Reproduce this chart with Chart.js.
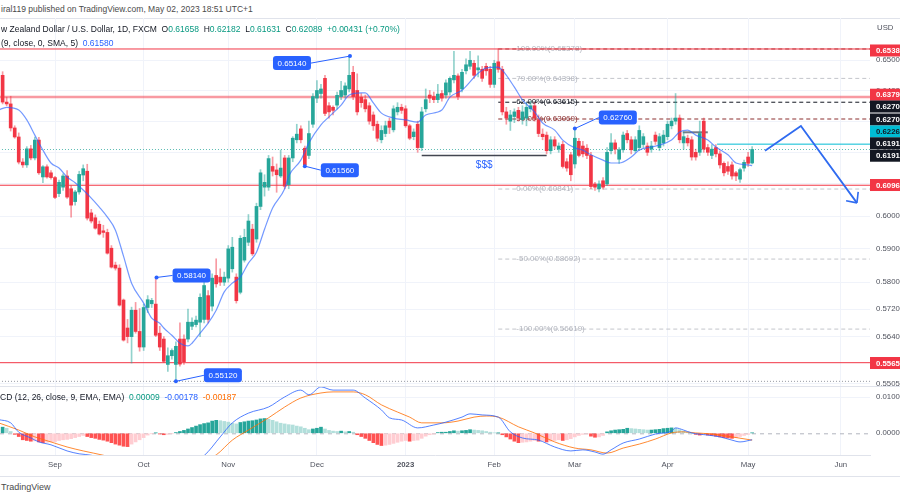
<!DOCTYPE html>
<html>
<head>
<meta charset="utf-8">
<script src="https://cdn.jsdelivr.net/npm/chart.js@4.4.1/dist/chart.umd.min.js"></script>
<style>
  body { margin: 0; background: #fff; }
  #wrap { position: relative; width: 900px; height: 500px; overflow: hidden; background: #fff;
          font-family: "Liberation Sans", Arial, sans-serif; color: #131722; }
  .txt { position: absolute; white-space: nowrap; font-size: 8.5px; line-height: 10px; }
  .g { color: #089981; }
  .b { color: #2962ff; }
  .o { color: #ff6d00; }
  canvas { position: absolute; left: 0; }
  .rule { position: absolute; left: 0; width: 900px; height: 1px; background: #e0e3eb; }
</style>
</head>
<body>
<div id="wrap">
  <div class="txt" style="left:1px;top:4px;color:#4a4a4a">iral119 published on TradingView.com, May 02, 2023 18:51 UTC+1</div>
  <div class="rule" style="top:18px"></div>
  <canvas id="priceChart" width="900" height="386" style="top:0"></canvas>
  <canvas id="macdChart" width="900" height="90" style="top:386px"></canvas>
  <div class="rule" style="top:386px"></div>
  <div class="rule" style="top:476px"></div>
  <div class="txt" style="left:1px;top:24px">w Zealand Dollar / U.S. Dollar, 1D, FXCM &nbsp;O<span class="g">0.61658</span> &nbsp;H<span class="g">0.62182</span> &nbsp;L<span class="g">0.61631</span> &nbsp;C<span class="g">0.62089</span> &nbsp;<span class="g">+0.00431 (+0.70%)</span></div>
  <div class="txt" style="left:1px;top:38px">(9, close, 0, SMA, 5) &nbsp;<span class="b">0.61580</span></div>
  <div class="txt" style="left:877px;top:23px;font-size:7.8px;color:#50535e">USD</div>
  <div class="txt" style="left:0;top:392px">CD (12, 26, close, 9, EMA, EMA) &nbsp;<span class="g">0.00009</span> &nbsp;<span class="b">-0.00178</span> &nbsp;<span class="o">-0.00187</span></div>
  <div class="txt" style="left:1px;top:482px;font-size:9px;color:#4a4a4a">TradingView</div>
</div>
<script>
// bar index 0 = 1 Sep 2022, one step per trading day; first bar is 15 Aug 2022
const firstIdx = -13

const opens = [
  .6450,.6362,.6356,.6278,.6249,.6169,.6160,.6211,.6182,.6239,
  .6122,.6154,.6135,.6120,.6070,.6090,.6125,.6085,.6045,.6075,
  .6128,.6140,.6010,.5995,.5975,.5955,.5950,.5902,.5851,.5842,
  .5747,.5665,.5640,.5717,.5655,.5610,.5725,.5736,.5735,.5650,
  .5633,.5560,.5585,.5560,.5633,.5633,.5633,.5670,.5675,.5682,
  .5690,.5760,.5729,.5820,.5815,.5800,.5812,.5840,.5815,.5770,
  .5866,.5920,.5960,.5930,.6030,.6090,.6090,.6155,.6144,.6125,
  .6182,.6098,.6182,.6240,.6275,.6213,.6190,.6290,.6375,.6390,
  .6440,.6350,.6345,.6352,.6380,.6385,.6405,.6460,.6400,.6378,
  .6370,.6350,.6320,.6290,.6240,.6260,.6300,.6272,.6330,.6345,
  .6340,.6285,.6250,.6290,.6215,.6340,.6385,.6380,.6370,.6390,
  .6385,.6395,.6435,.6448,.6405,.6465,.6480,.6490,.6468,.6470,
  .6480,.6470,.6420,.6495,.6470,.6330,.6300,.6315,.6335,.6305,
  .6310,.6340,.6350,.6305,.6258,.6255,.6205,.6240,.6210,.6225,
  .6170,.6192,.6163,.6235,.6220,.6213,.6190,.6100,.6085,.6110,
  .6100,.6205,.6230,.6178,.6208,.6260,.6240,.6205,.6215,.6225,
  .6220,.6210,.6255,.6215,.6230,.6250,.6285,.6300,.6310,.6230,
  .6245,.6240,.6200,.6200,.6300,.6215,.6190,.6215,.6195,.6165,
  .6155,.6160,.6135,.6115,.6150,.6185,.6166
]
const highs = [
  .6462,.6378,.6381,.6285,.6262,.6180,.6218,.6222,.6249,.6248,
  .6158,.6160,.6142,.6124,.6112,.6132,.6142,.6095,.6080,.6140,
  .6160,.6162,.6021,.6004,.5985,.5972,.5960,.5910,.5860,.5852,
  .5750,.5690,.5726,.5740,.5722,.5735,.5760,.5752,.5814,.5670,
  .5640,.5608,.5605,.5625,.5680,.5645,.5720,.5695,.5700,.5765,
  .5800,.5775,.5825,.5870,.5840,.5830,.5910,.5935,.5825,.5940,
  .5960,.6005,.5975,.6040,.6145,.6129,.6190,.6185,.6163,.6207,
  .6190,.6190,.6250,.6290,.6285,.6220,.6300,.6390,.6433,.6420,
  .6450,.6360,.6350,.6395,.6430,.6425,.6514,.6480,.6455,.6390,
  .6385,.6360,.6330,.6300,.6285,.6300,.6310,.6350,.6360,.6355,
  .6350,.6290,.6275,.6300,.6345,.6405,.6400,.6395,.6420,.6400,
  .6435,.6445,.6530,.6455,.6470,.6505,.6530,.6500,.6515,.6480,
  .6490,.6480,.6500,.6538,.6480,.6345,.6335,.6340,.6345,.6350,
  .6360,.6365,.6360,.6320,.6275,.6265,.6250,.6250,.6230,.6235,
  .6180,.6200,.6276,.6245,.6235,.6225,.6200,.6105,.6110,.6120,
  .6215,.6260,.6240,.6215,.6265,.6270,.6250,.6250,.6285,.6260,
  .6230,.6235,.6265,.6260,.6270,.6300,.6310,.6390,.6320,.6265,
  .6255,.6250,.6210,.6300,.6310,.6225,.6225,.6225,.6205,.6170,
  .6170,.6170,.6140,.6150,.6175,.6200,.6218
]
const lows = [
  .6356,.6350,.6268,.6245,.6163,.6152,.6152,.6176,.6176,.6130,
  .6104,.6118,.6115,.6054,.6060,.6080,.6055,.5997,.6034,.6068,
  .6110,.5988,.5979,.5960,.5942,.5935,.5884,.5842,.5836,.5729,
  .5627,.5622,.5564,.5650,.5598,.5600,.5710,.5725,.5640,.5600,
  .5565,.5540,.5575,.5512,.5555,.5560,.5625,.5660,.5668,.5640,
  .5680,.5680,.5715,.5785,.5790,.5790,.5800,.5830,.5738,.5765,
  .5860,.5910,.5880,.5920,.6020,.6062,.6080,.6125,.6074,.6120,
  .6085,.6085,.6170,.6230,.6230,.6156,.6180,.6280,.6360,.6375,
  .6318,.6310,.6320,.6340,.6370,.6375,.6395,.6370,.6320,.6345,
  .6330,.6290,.6270,.6235,.6230,.6250,.6260,.6265,.6320,.6325,
  .6280,.6240,.6240,.6200,.6205,.6330,.6360,.6360,.6360,.6365,
  .6375,.6385,.6425,.6370,.6395,.6455,.6470,.6440,.6445,.6430,
  .6450,.6410,.6410,.6460,.6320,.6290,.6270,.6295,.6300,.6290,
  .6285,.6330,.6300,.6250,.6240,.6195,.6195,.6210,.6200,.6150,
  .6140,.6110,.6150,.6185,.6185,.6180,.6085,.6080,.6075,.6084,
  .6095,.6195,.6195,.6165,.6200,.6230,.6195,.6200,.6205,.6215,
  .6190,.6200,.6225,.6205,.6220,.6240,.6275,.6290,.6230,.6210,
  .6220,.6175,.6175,.6190,.6200,.6190,.6180,.6185,.6150,.6125,
  .6130,.6115,.6110,.6105,.6140,.6155,.6163
]
const closes = [
  .6362,.6356,.6278,.6249,.6169,.6160,.6211,.6182,.6239,.6135,
  .6154,.6122,.6120,.6058,.6105,.6125,.6059,.6034,.6075,.6130,
  .6148,.5994,.5985,.5963,.5945,.5950,.5887,.5845,.5842,.5732,
  .5630,.5640,.5717,.5655,.5610,.5725,.5748,.5746,.5644,.5610,
  .5569,.5585,.5600,.5612,.5561,.5568,.5682,.5682,.5688,.5755,
  .5790,.5690,.5812,.5795,.5800,.5815,.5900,.5905,.5745,.5932,
  .5935,.5985,.5885,.6030,.6135,.6105,.6180,.6140,.6129,.6150,
  .6093,.6182,.6245,.6258,.6240,.6160,.6260,.6380,.6400,.6405,
  .6325,.6330,.6335,.6384,.6400,.6415,.6450,.6380,.6330,.6360,
  .6340,.6300,.6285,.6245,.6270,.6285,.6280,.6340,.6345,.6335,
  .6285,.6245,.6265,.6215,.6330,.6370,.6375,.6370,.6388,.6375,
  .6425,.6440,.6450,.6380,.6460,.6485,.6500,.6450,.6475,.6440,
  .6465,.6420,.6490,.6470,.6330,.6310,.6320,.6330,.6310,.6330,
  .6345,.6350,.6310,.6260,.6250,.6205,.6240,.6220,.6220,.6155,
  .6150,.6129,.6245,.6190,.6195,.6190,.6092,.6090,.6100,.6090,
  .6200,.6230,.6210,.6208,.6255,.6240,.6208,.6240,.6270,.6250,
  .6200,.6220,.6235,.6250,.6255,.6290,.6300,.6310,.6240,.6250,
  .6230,.6185,.6185,.6260,.6210,.6200,.6210,.6195,.6160,.6135,
  .6140,.6125,.6125,.6145,.6168,.6165,.6209
]

// MACD histogram per bar, in units of 0.0001
const histValues = [
  17,14,5,-3,-9,-18,-20,-22,-21,-24,
  -26,-25,-24,-23,-20,-18,-17,-15,-12,-9,
  -6,-9,-12,-14,-17,-19,-22,-26,-30,-33,
  -36,-37,-30,-24,-18,-12,-5,-1,1,-2,
  -4,-3,-1,2,5,8,12,16,20,24,
  27,29,34,36,35,33,31,28,26,30,
  32,34,35,37,40,41,39,36,32,28,
  26,24,23,20,18,14,10,12,14,17,
  12,8,6,5,6,4,5,3,-4,-9,
  -14,-20,-26,-31,-34,-33,-31,-28,-25,-22,
  -20,-22,-20,-19,-14,-8,-4,-2,2,3,
  3,5,7,6,7,8,10,9,8,7,
  5,3,1,1,-4,-10,-16,-22,-26,-25,
  -24,-22,-20,-22,-21,-24,-22,-20,-18,-20,
  -18,-15,-10,-6,-3,-2,-8,-11,-10,-6,
  4,7,9,10,11,14,13,12,11,10,
  9,9,10,11,13,14,15,14,10,6,
  3,0,-3,-5,-4,-5,-6,-8,-10,-12,
  -13,-14,-12,-9,-6,-3,1
]

// moving average line, read at sample bars
const smaIdx = [-14,-12,-9,-7,-5,-3,-1,1,3,5,7,9,11,13,15,17,19,22,24,26,27,29,31,33,34,36,38,40,42,44,46,48,50,52,54,57,58,61,63,66,68,71,73,76,77,79,81,84,87,90,92,96,98,101,105,107,110,111,114,116,119,121,124,126,129,131,133,136,138,140,143,145,148,150,153,155,157,159,162,164,167,169,172,173]
const smaVals = [.6336,.6345,.6336,.6304,.6255,.6207,.6166,.6150,.6122,.6104,.6081,.6056,.6028,.5997,.5957,.5878,.5797,.5738,.5694,.5679,.5665,.5644,.5621,.5613,.5621,.5650,.5679,.5717,.5771,.5797,.5815,.5857,.5890,.5960,.6025,.6085,.6125,.6175,.6230,.6288,.6314,.6352,.6385,.6392,.6392,.6359,.6326,.6310,.6304,.6297,.6320,.6336,.6378,.6401,.6457,.6474,.6477,.6467,.6411,.6369,.6330,.6294,.6271,.6239,.6214,.6207,.6192,.6175,.6166,.6166,.6185,.6207,.6217,.6223,.6239,.6265,.6271,.6255,.6239,.6217,.6192,.6166,.6160,.6158]

// MACD and signal lines, units of 0.0001
const macdIdx = [-14,-11,-9,-6,-4,-1,3,6,9,14,19,25,30,34,37,41,44,48,53,57,61,63,66,69,74,77,81,83,86,90,94,97,101,103,106,110,113,116,120,124,128,131,134,136,138,141,145,149,153,154,156,158,162,165,168,170,173]
const macdVals = [38,29,3,-13,-24,-32,-49,-57,-61,-78,-100,-105,-95,-78,-62,-10,29,56,73,101,120,107,129,120,120,98,65,43,37,15,23,31,45,54,51,45,4,-13,-19,-38,-49,-46,-52,-58,-46,-27,-16,-2,6,15,9,1,-5,-10,-19,-24,-18]
const signalIdx = [-14,-9,-5,-1,3,7,12,18,25,32,37,40,44,48,53,57,61,66,69,74,77,81,85,88,91,96,100,104,107,110,115,119,124,129,133,137,141,145,149,153,156,159,163,168,173]
const signalVals = [29,9,-10,-24,-38,-49,-61,-78,-92,-90,-75,-60,-19,9,43,73,98,112,115,115,107,79,59,45,29,29,34,45,48,45,18,1,-24,-41,-46,-55,-41,-30,-16,1,4,1,-2,-10,-19]

const monthIdx = [0, 22, 43, 65, 87, 109, 129, 152, 172, 195]
const monthLabels = ["Sep", "Oct", "Nov", "Dec", "2023", "Feb", "Mar", "Apr", "May", "Jun"]
const priceTicks = [0.65, 0.64, 0.63, 0.62, 0.61, 0.60, 0.59, 0.58, 0.572, 0.564, 0.5505]
const macdTicks = [0, 0.01]

// drawn levels
const redLevels = [0.65378, 0.6379, 0.6096, 0.5565]
const fibStart = 110
const fibNames = ["100.00%", "79.00%", "62.00%", "50.00%", "0.00%", "-50.00%", "-100.00%"]
const fibPrices = [0.65378, 0.64398, 0.63615, 0.63069, 0.60841, 0.58692, 0.56619]
const lastClose = 0.62089
const lowRay = 0.5512
const cyanLevel = 0.6226, cyanFrom = 164.3
const liquidityLevel = 0.6190, liquidityFrom = 91, liquidityTo = 122
const grayLevel = 0.6264, grayFrom = 155.8, grayTo = 162
const projIdx = [176.2, 185.1, 199]
const projVals = [0.6205, 0.6284, 0.6041]
const calloutIdx = [73.2, 62, 25.2, 30, 129]
const calloutVals = [0.6514, 0.6156, 0.5814, 0.5512, 0.6276]
const axisLabelTexts = ["0.6538", "0.6379", "0.6270", "0.6270", "0.6226", "0.6191", "0.6191", "0.6096", "0.5565"]
const axisLabelVals = [0.65328, 0.63861, 0.63475, 0.63053, 0.62666, 0.62287, 0.61891, 0.60967, 0.55641]

// styles
const FONT = '"Liberation Sans", Arial, sans-serif'
Chart.defaults.font.family = FONT
const GRID = "#f0f3fa"
const UP = "#26a69a", DOWN = "#f23645"
const UP_WICK = "rgba(38,166,154,0.5)", DOWN_WICK = "rgba(242,54,69,0.5)"
const BLUE = "#2962ff"
const redStyles = [["#f23645", 1], ["rgba(242,54,69,0.5)", 2.5], ["#f23645", 1], ["#f23645", 1]]
const fibLineColors = ["#8d3a3a", "#c3c5cb", "#131722", "#8b2e2e", "#c3c5cb", "#c3c5cb", "#c3c5cb"]
const fibTextColors = ["#b2b5be", "#b2b5be", "#131722", "#8b2e2e", "#b2b5be", "#b2b5be", "#b2b5be"]
const calloutOffsets = [[-58, 7], [35, 4], [35, -2], [47, -6], [43, -11]]
const axisLabelBg = ["#f23645", "#f23645", "#131722", "#131722", "#00bcd4", "#131722", "#131722", "#f23645", "#f23645"]
const axisLabelFg = ["#fff", "#fff", "#fff", "#fff", "#131722", "#fff", "#fff", "#fff", "#fff"]

const xMin = -13.65, xMax = 202.25
const yMin = 0.54988, yMax = 0.66427
const macdMin = -0.00603, macdMax = 0.01286

const idx = opens.map((_, k) => firstIdx + k)
const up = closes.map((c, k) => c >= opens[k])

function level(value, from, to, color, width, dash, extra) {
  return Object.assign({
    type: "line",
    data: [{ x: from, y: value }, { x: to, y: value }],
    borderColor: color,
    borderWidth: width,
    borderDash: dash || [],
    pointRadius: 0,
    order: 20,
  }, extra || {})
}

const levelSets = []
redLevels.forEach((v, k) => levelSets.push(level(v, xMin - 1, xMax + 1, redStyles[k][0], redStyles[k][1])))
fibPrices.forEach((v, k) => levelSets.push(level(v, fibStart, xMax + 1, fibLineColors[k], 1, [4, 3], {
  order: 21, fibText: fibNames[k] + "(" + v.toFixed(5) + ")", fibTextColor: fibTextColors[k],
})))
levelSets.push(level(lastClose, xMin - 1, xMax + 1, "rgba(38,166,154,0.75)", 1, [1, 2]))
levelSets.push(level(lowRay, xMin - 1, xMax + 1, "#9598a1", 1, [1, 2]))
levelSets.push(level(cyanLevel, cyanFrom, xMax + 1, "#00bcd4", 1))
levelSets.push(level(liquidityLevel, liquidityFrom, liquidityTo, "#434651", 1.5))
levelSets.push(level(grayLevel, grayFrom, grayTo, "#787b86", 2))

function roundBox(ctx, x, y, w, h, r) {
  ctx.beginPath()
  ctx.moveTo(x + r, y)
  ctx.lineTo(x + w - r, y)
  ctx.quadraticCurveTo(x + w, y, x + w, y + r)
  ctx.lineTo(x + w, y + h - r)
  ctx.quadraticCurveTo(x + w, y + h, x + w - r, y + h)
  ctx.lineTo(x + r, y + h)
  ctx.quadraticCurveTo(x, y + h, x, y + h - r)
  ctx.lineTo(x, y + r)
  ctx.quadraticCurveTo(x, y, x + r, y)
  ctx.closePath()
}

const priceOverlay = {
  id: "priceOverlay",
  afterDatasetDraw(chart, args) {
    const ds = chart.data.datasets[args.index]
    if (!ds.fibText) return
    const ctx = chart.ctx
    ctx.save()
    ctx.font = "8px " + FONT
    ctx.fillStyle = ds.fibTextColor
    ctx.textBaseline = "middle"
    ctx.fillText(ds.fibText, chart.scales.x.getPixelForValue(fibStart) + 18, chart.scales.y.getPixelForValue(ds.data[0].y))
    ctx.restore()
  },
  afterDatasetsDraw(chart) {
    const ctx = chart.ctx, xs = chart.scales.x, ys = chart.scales.y
    ctx.save()
    // liquidity mark
    ctx.font = "10px " + FONT
    ctx.fillStyle = BLUE
    ctx.textAlign = "center"
    ctx.textBaseline = "middle"
    const lx = (xs.getPixelForValue(liquidityFrom) + xs.getPixelForValue(liquidityTo)) / 2
    ctx.fillText("$$$", lx, ys.getPixelForValue(liquidityLevel) + 10)

    // price callouts
    calloutIdx.forEach((ix, k) => {
      const px = xs.getPixelForValue(ix), py = ys.getPixelForValue(calloutVals[k])
      const bx = px + calloutOffsets[k][0], by = py + calloutOffsets[k][1]
      const w = 38, h = 14
      const ex = calloutOffsets[k][0] < 0 ? bx + w / 2 : bx - w / 2
      ctx.strokeStyle = BLUE
      ctx.lineWidth = 1
      ctx.beginPath(); ctx.moveTo(px, py); ctx.lineTo(ex, by); ctx.stroke()
      ctx.fillStyle = BLUE
      ctx.beginPath(); ctx.arc(px, py, 2, 0, Math.PI * 2); ctx.fill()
      roundBox(ctx, bx - w / 2, by - h / 2, w, h, 3); ctx.fill()
      ctx.fillStyle = "#fff"
      ctx.font = "8px " + FONT
      ctx.fillText(calloutVals[k].toFixed(5), bx, by + 0.5)
    })

    // arrow head on projection
    const meta = chart.getDatasetMeta(chart.data.datasets.findIndex(d => d.label === "projection"))
    const a = meta.data[meta.data.length - 2], b = meta.data[meta.data.length - 1]
    const ang = Math.atan2(a.y - b.y, a.x - b.x)
    ctx.strokeStyle = "#2f6bf0"
    ctx.lineWidth = 1.6
    ;[ang + 0.75, ang - 0.75].forEach(t => {
      ctx.beginPath(); ctx.moveTo(b.x, b.y); ctx.lineTo(b.x + 11 * Math.cos(t), b.y + 11 * Math.sin(t)); ctx.stroke()
    })
    ctx.restore()
  },
  afterDraw(chart) {
    const ctx = chart.ctx, ys = chart.scales.y, right = chart.chartArea.right
    ctx.save()
    ctx.font = "bold 7.8px " + FONT
    ctx.textBaseline = "middle"
    axisLabelTexts.forEach((t, k) => {
      const y = ys.getPixelForValue(axisLabelVals[k])
      ctx.fillStyle = axisLabelBg[k]
      ctx.fillRect(right, y - 6, chart.width - right, 12)
      ctx.fillStyle = axisLabelFg[k]
      ctx.fillText(t, right + 6, y + 0.5)
    })
    ctx.restore()
  },
}

new Chart(document.getElementById("priceChart"), {
  type: "bar",
  data: {
    datasets: [
      ...levelSets,
      {
        label: "wick",
        data: idx.map((x, k) => ({ x, y: [lows[k], highs[k]] })),
        backgroundColor: up.map(u => (u ? UP_WICK : DOWN_WICK)),
        barThickness: 1,
        grouped: false,
        order: 5,
      },
      {
        label: "body",
        data: idx.map((x, k) => ({ x, y: [opens[k], closes[k]] })),
        backgroundColor: up.map(u => (u ? UP : DOWN)),
        barThickness: 3,
        minBarLength: 1,
        grouped: false,
        order: 4,
      },
      {
        type: "line",
        label: "MA 9",
        data: smaIdx.map((x, k) => ({ x, y: smaVals[k] })),
        borderColor: "rgba(41,98,255,0.65)",
        borderWidth: 1.2,
        pointRadius: 0,
        cubicInterpolationMode: "monotone",
        order: 3,
      },
      {
        type: "line",
        label: "projection",
        data: projIdx.map((x, k) => ({ x, y: projVals[k] })),
        borderColor: "#2f6bf0",
        borderWidth: 1.8,
        pointRadius: 0,
        order: 1,
      },
    ],
  },
  options: {
    responsive: false,
    animation: false,
    devicePixelRatio: 1,
    layout: { padding: { top: 18, left: 0, right: 0, bottom: 0 } },
    plugins: { legend: { display: false }, tooltip: { enabled: false } },
    scales: {
      x: {
        type: "linear",
        min: xMin,
        max: xMax,
        bounds: "data",
        offset: false,
        afterBuildTicks: s => { s.ticks = monthIdx.map(v => ({ value: v })) },
        afterFit: s => { s.height = 0; s.paddingLeft = 0; s.paddingRight = 0 },
        ticks: { display: false },
        grid: { color: GRID, drawTicks: false, offset: false },
        border: { display: false },
      },
      y: {
        type: "logarithmic",
        position: "right",
        min: yMin,
        max: yMax,
        bounds: "data",
        afterBuildTicks: s => { s.ticks = priceTicks.map(v => ({ value: v })) },
        afterFit: s => { s.width = 30; s.paddingTop = 0; s.paddingBottom = 0 },
        ticks: { callback: v => Number(v).toFixed(4), color: "#50535e", font: { size: 7.8 }, padding: 6, autoSkip: false },
        grid: { color: GRID, drawTicks: false },
        border: { display: false },
      },
    },
  },
  plugins: [priceOverlay],
})

const histColors = histValues.map((v, k) => {
  const prev = k > 0 ? histValues[k - 1] : v
  if (v >= 0) return v >= prev ? "#26a69a" : "#b2dfdb"
  return v < prev ? "#ff5252" : "#ffcdd2"
})

const zeroLine = {
  id: "zeroLine",
  beforeDatasetsDraw(chart) {
    const ctx = chart.ctx, y = chart.scales.y.getPixelForValue(0), ca = chart.chartArea
    ctx.save()
    ctx.strokeStyle = "#b2b5be"
    ctx.lineWidth = 1
    ctx.setLineDash([4, 4])
    ctx.beginPath(); ctx.moveTo(ca.left, y + 0.5); ctx.lineTo(ca.right, y + 0.5); ctx.stroke()
    ctx.restore()
  },
}

new Chart(document.getElementById("macdChart"), {
  type: "bar",
  data: {
    datasets: [
      {
        type: "line",
        label: "MACD",
        data: macdIdx.map((x, k) => ({ x, y: macdVals[k] / 10000 })),
        borderColor: "rgba(41,98,255,0.8)",
        borderWidth: 1,
        pointRadius: 0,
        cubicInterpolationMode: "monotone",
        order: 1,
      },
      {
        type: "line",
        label: "Signal",
        data: signalIdx.map((x, k) => ({ x, y: signalVals[k] / 10000 })),
        borderColor: "rgba(255,109,0,0.8)",
        borderWidth: 1,
        pointRadius: 0,
        cubicInterpolationMode: "monotone",
        order: 2,
      },
      {
        label: "Histogram",
        data: idx.map((x, k) => ({ x, y: histValues[k] / 10000 })),
        backgroundColor: histColors,
        barThickness: 3,
        grouped: false,
        order: 3,
      },
    ],
  },
  options: {
    responsive: false,
    animation: false,
    devicePixelRatio: 1,
    layout: { padding: { top: 1, left: 0, right: 0, bottom: 0 } },
    plugins: { legend: { display: false }, tooltip: { enabled: false } },
    scales: {
      x: {
        type: "linear",
        min: xMin,
        max: xMax,
        bounds: "data",
        offset: false,
        afterBuildTicks: s => { s.ticks = monthIdx.map(v => ({ value: v })) },
        afterFit: s => { s.height = 21; s.paddingLeft = 0; s.paddingRight = 0 },
        ticks: {
          callback: v => monthLabels[monthIdx.indexOf(v)],
          color: "#50535e",
          font: c => ({ size: 7.8, weight: c.tick && c.tick.value === 87 ? "bold" : "normal" }),
          padding: 5,
          maxRotation: 0,
          autoSkip: false,
        },
        grid: { color: GRID, drawTicks: false, offset: false },
        border: { color: "#e0e3eb" },
      },
      y: {
        position: "right",
        min: macdMin,
        max: macdMax,
        bounds: "data",
        afterBuildTicks: s => { s.ticks = macdTicks.map(v => ({ value: v })) },
        afterFit: s => { s.width = 30; s.paddingTop = 0; s.paddingBottom = 0 },
        ticks: { callback: v => Number(v).toFixed(4), color: "#50535e", font: { size: 7.8 }, padding: 6, autoSkip: false },
        grid: { color: c => (c.tick && c.tick.value === 0 ? "rgba(0,0,0,0)" : GRID), drawTicks: false },
        border: { display: false },
      },
    },
  },
  plugins: [zeroLine],
})
</script>
</body>
</html>
